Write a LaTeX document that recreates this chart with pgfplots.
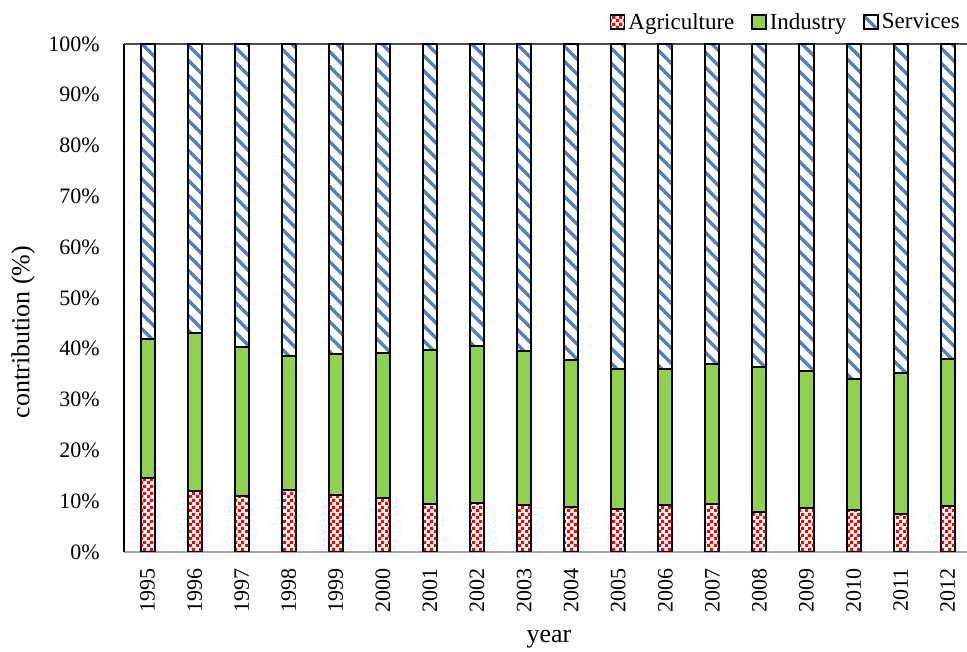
\documentclass[border=0pt]{standalone}
\usepackage{fontspec}
\setmainfont{Liberation Serif}
\usepackage{pgfplots}
\pgfplotsset{compat=1.18}
\usepackage{pgfplotstable}
\usetikzlibrary{patterns}

\definecolor{agri}{HTML}{FF0000}
\definecolor{indus}{HTML}{92D050}
\definecolor{serv}{HTML}{4F81C7}
\definecolor{axgray}{HTML}{A6A6A6}

\pgfdeclarepatternformonly{bigchecker}{\pgfpointorigin}{\pgfqpoint{7pt}{7pt}}{\pgfqpoint{7pt}{7pt}}{%
  \pgfpathrectangle{\pgfpointorigin}{\pgfqpoint{3.5pt}{3.5pt}}%
  \pgfpathrectangle{\pgfqpoint{3.5pt}{3.5pt}}{\pgfqpoint{3.5pt}{3.5pt}}%
  \pgfusepath{fill}}

\pgfdeclarepatternformonly{bluestripes}{\pgfqpoint{-1pt}{-1pt}}{\pgfqpoint{16pt}{16pt}}{\pgfqpoint{15pt}{15pt}}{%
  \pgfsetlinewidth{3.4pt}%
  \pgfpathmoveto{\pgfqpoint{-1pt}{16pt}}%
  \pgfpathlineto{\pgfqpoint{16pt}{-1pt}}%
  \pgfusepath{stroke}}

\pgfplotsset{boxlegend/.style={legend image code/.code={\draw[##1, line width=1.4pt] (0pt,-7pt) rectangle (14pt,7pt);}}}

\pgfplotstableread{
x agri indus serv
0 14.5 27.4 58.1
1 12.0 31.1 56.9
2 11.0 29.4 59.6
3 12.3 26.3 61.4
4 11.2 27.7 61.1
5 10.6 28.6 60.8
6 9.5 30.3 60.2
7 9.7 30.9 59.4
8 9.2 30.3 60.5
9 8.9 28.8 62.3
10 8.5 27.5 64.0
11 9.2 26.8 64.0
12 9.4 27.7 62.9
13 7.9 28.6 63.5
14 8.6 27.1 64.3
15 8.3 25.8 65.9
16 7.5 27.7 64.8
17 9.1 28.9 62.0
}\datatable

\begin{document}
\begin{tikzpicture}
\begin{axis}[
  scale only axis,
  width=843pt, height=508pt,
  ybar stacked,
  bar width=14pt,
  xmin=-0.5, xmax=17.41,
  ymin=0, ymax=100,
  axis x line*=bottom,
  axis y line*=left,
  x axis line style={draw=axgray, line width=1.3pt, -},
  y axis line style={draw=black, line width=1.5pt, -},
  xtick=data,
  xticklabels={1995,1996,1997,1998,1999,2000,2001,2002,2003,2004,2005,2006,2007,2008,2009,2010,2011,2012},
  ytick={0,10,20,30,40,50,60,70,80,90,100},
  yticklabels={0\%,10\%,20\%,30\%,40\%,50\%,60\%,70\%,80\%,90\%,100\%},
  major tick length=0pt,
  tick style={draw=none},
  xticklabel style={rotate=90, anchor=east, inner sep=0pt, font=\fontsize{22}{26}\selectfont},
  yticklabel style={anchor=east, inner sep=0pt, font=\fontsize{22}{26}\selectfont},
  xticklabel shift=16pt,
  yticklabel shift=24pt,
  xlabel={year},
  ylabel={contribution (\%)},
  xlabel style={at={(axis description cs:0.504,-0.179)}, anchor=base, font=\fontsize{26}{30}\selectfont},
  ylabel style={at={(axis description cs:-0.1198,0.433)}, anchor=center, rotate=0, font=\fontsize{26}{30}\selectfont},
  legend columns=-1,
  legend style={at={(axis description cs:0.9917,1.0433)}, anchor=east, draw=none, fill=none,
    inner sep=0pt, font=\fontsize{23}{27}\selectfont,
    nodes={inner sep=0pt},
    /tikz/every odd column/.append style={column sep=3pt},
    /tikz/every even column/.append style={column sep=17pt}},
]
\addplot[draw=black, line width=2pt, pattern=bigchecker, pattern color=agri, boxlegend]
  table[x=x, y=agri] {\datatable};
\addplot[draw=black, line width=2pt, fill=indus, boxlegend]
  table[x=x, y=indus] {\datatable};
\addplot[draw=black, line width=2pt, pattern=bluestripes, pattern color=serv, boxlegend]
  table[x=x, y=serv] {\datatable};
\legend{Agriculture,Industry,Services}
\draw[draw=black!70, line width=1.2pt] (rel axis cs:0,1) -- (rel axis cs:1,1);
\end{axis}
\pgfresetboundingbox
\useasboundingbox (-124pt,-100pt) rectangle (843pt,552pt);
\end{tikzpicture}
\end{document}
